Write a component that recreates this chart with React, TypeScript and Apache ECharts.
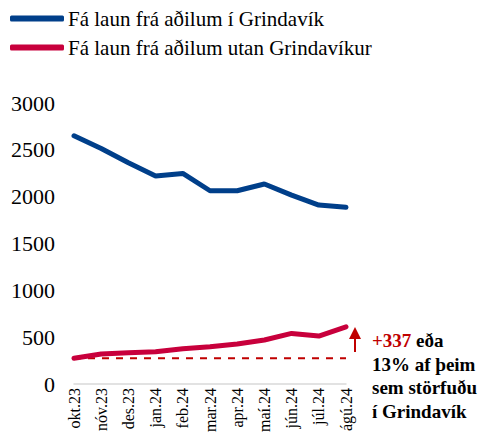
import React, { useEffect, useRef } from "react";
import * as echarts from "echarts";

const categories = ["okt.23", "nóv.23", "des.23", "jan.24", "feb.24", "mar.24", "apr.24", "maí.24", "jún.24", "júl.24", "ágú.24"];
const grindavik = [2650, 2515, 2362, 2220, 2248, 2063, 2063, 2135, 2017, 1910, 1886];
const utan = [274, 320, 334, 345, 377, 398, 427, 470, 540, 512, 611];
const seriesNames = ["Fá laun frá aðilum í Grindavík", "Fá laun frá aðilum utan Grindavíkur"];
const yTicks = { min: 0, max: 3000, interval: 500 };
const noteLines = ["{r|+337} eða", "13% af þeim", "sem störfuðu", "í Grindavík"];

const FONT = "serif";

export default function App() {
  const ref = useRef<HTMLDivElement>(null);
  useEffect(() => {
    if (!ref.current) return;
    const chart = echarts.init(ref.current, null, { renderer: "svg" });
    const baseline = categories.map(() => utan[0]);
    chart.setOption({
      animation: false,
      textStyle: { fontFamily: FONT },
      legend: {
        orient: "vertical",
        left: 2,
        top: 0,
        padding: 0,
        itemWidth: 54,
        itemHeight: 6,
        itemGap: 8,
        icon: "roundRect",
        data: seriesNames,
        textStyle: { fontFamily: FONT, fontSize: 21, color: "#000", padding: [0, 0, 0, -1] },
      },
      grid: { left: 64, right: 147, top: 95, bottom: 61 },
      xAxis: {
        type: "category",
        data: categories,
        boundaryGap: false,
        axisLine: { show: true, lineStyle: { color: "#d9d9d9", width: 1.5 } },
        axisTick: { show: false },
        axisLabel: { rotate: 90, fontFamily: FONT, fontSize: 16, color: "#000", margin: 4, interval: 0 },
      },
      yAxis: {
        type: "value",
        min: yTicks.min,
        max: yTicks.max,
        interval: yTicks.interval,
        splitLine: { show: false },
        axisLine: { show: false },
        axisTick: { show: false },
        axisLabel: { fontFamily: FONT, fontSize: 22, color: "#000", margin: 19, formatter: (v: number) => String(v) },
      },
      series: [
        {
          name: seriesNames[0],
          type: "line",
          data: grindavik,
          symbol: "none",
          lineStyle: { color: "#003f8a", width: 5, cap: "round" },
          itemStyle: { color: "#003f8a" },
        },
        {
          name: "baseline",
          type: "line",
          data: baseline,
          symbol: "none",
          lineStyle: { color: "#c00000", width: 2, type: [7, 7] },
          itemStyle: { color: "#c00000" },
          z: 1,
        },
        {
          name: seriesNames[1],
          type: "line",
          data: utan,
          symbol: "none",
          lineStyle: { color: "#c8003c", width: 5, cap: "round" },
          itemStyle: { color: "#c8003c" },
          z: 3,
        },
      ],
      graphic: [
        { type: "line", shape: { x1: 347, y1: 344, x2: 347, y2: 328 }, style: { stroke: "#c00000", lineWidth: 2 } },
        { type: "polygon", shape: { points: [[341, 331], [353, 331], [347, 319]] }, style: { fill: "#c00000" } },
        {
          type: "text",
          left: 364,
          top: 321,
          style: {
            text: noteLines.join("\n"),
            fontFamily: FONT,
            fontWeight: "bold",
            fontSize: 19,
            fill: "#000",
            lineHeight: 23.5,
            rich: { r: { fill: "#c00000", fontFamily: FONT, fontWeight: "bold", fontSize: 19 } },
          },
        },
      ],
    });
    return () => chart.dispose();
  }, []);
  return <div ref={ref} style={{ width: 485, height: 437 }} />;
}
